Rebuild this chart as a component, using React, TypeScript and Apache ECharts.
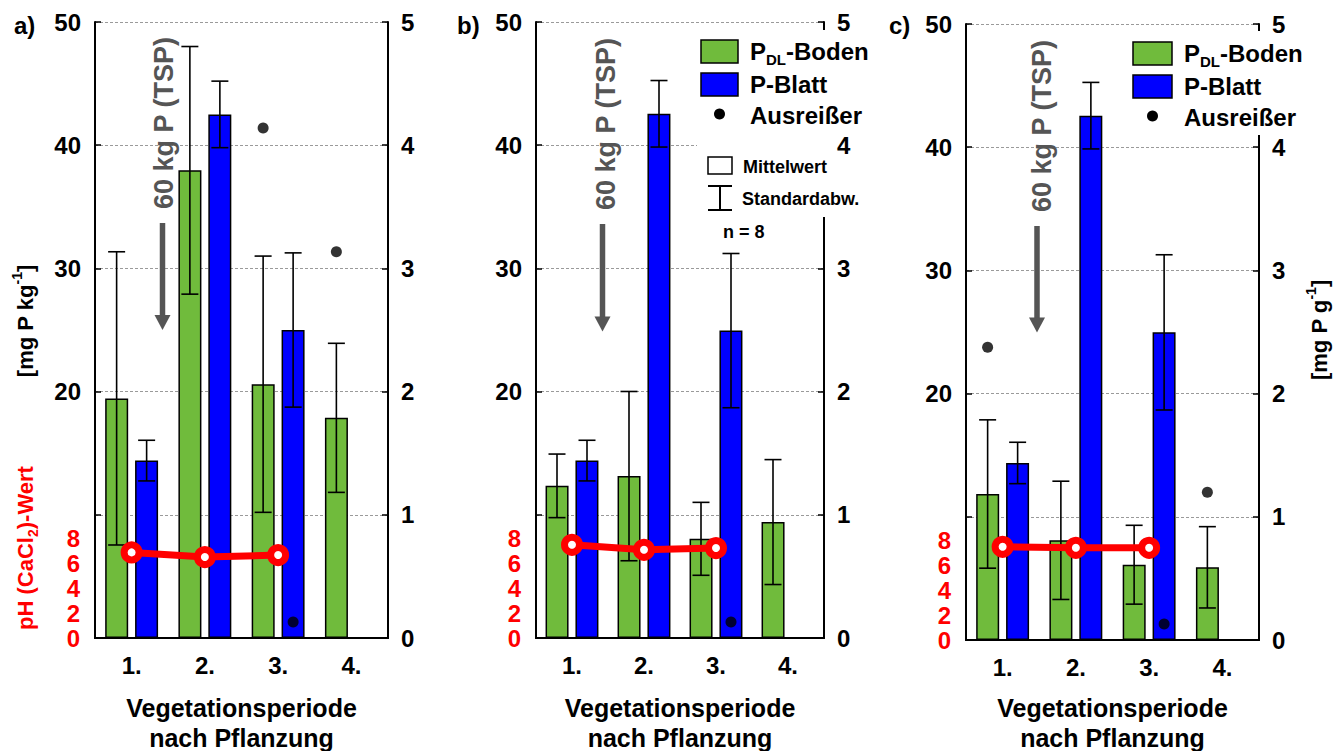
import React, { useEffect, useRef } from 'react';
import * as echarts from 'echarts';

const categories = ['1.', '2.', '3.', '4.'];

// Panel a)
const bodenA = [19.45, 37.96, 20.6, 17.87];
const bodenSdA = [11.9, 10.05, 10.4, 6.05];
const blattA = [1.44, 4.25, 2.5, null];
const blattSdA = [0.165, 0.27, 0.626, null];
const phA = [6.85, 6.48, 6.64, null];
const outBodenA = [[2, 41.4], [3, 31.36]];
const outBlattA = [[2, 0.13]];

// Panel b)
const bodenB = [12.35, 13.14, 8.05, 9.41];
const bodenSdB = [2.58, 6.87, 2.96, 5.07];
const blattB = [1.44, 4.255, 2.495, null];
const blattSdB = [0.165, 0.27, 0.626, null];
const phB = [7.46, 7.06, 7.2, null];
const outBodenB: number[][] = [];
const outBlattB = [[2, 0.13]];

// Panel c)
const bodenC = [11.85, 8.09, 6.11, 5.9];
const bodenSdC = [6.02, 4.8, 3.2, 3.3];
const blattC = [1.437, 4.256, 2.497, null];
const blattSdC = [0.168, 0.27, 0.63, null];
const phC = [7.46, 7.38, 7.38, null];
const outBodenC = [[0, 23.76], [3, 11.99]];
const outBlattC = [[2, 0.13]];

// Axis ranges
const leftMax = 50;
const leftInterval = 10;
const rightMax = 5;
const rightInterval = 1;
const phMax = 49.3;
const phInterval = 2;
const phLabelMax = 8;
const leftLabelMin = 20;

const FF = "'Liberation Sans', Arial, Helvetica, sans-serif";
const GREEN = '#70BB3C';
const BLUE = '#0000FF';
const RED = '#FF0000';
const GREY = '#555555';

type Panel = {
  letter: string;
  grid: { left: number; top: number; width: number; height: number };
  boden: (number | null)[];
  bodenSd: (number | null)[];
  blatt: (number | null)[];
  blattSd: (number | null)[];
  ph: (number | null)[];
  outBoden: number[][];
  outBlatt: number[][];
  letterX: number;
  arrowX: number;
  arrowTextX: number;
  arrowTop: number;
  arrowTip: number;
  arrowTextY: number;
};

const panels: Panel[] = [
  {
    letter: 'a)', grid: { left: 95, top: 22, width: 293, height: 616 },
    boden: bodenA, bodenSd: bodenSdA, blatt: blattA, blattSd: blattSdA, ph: phA,
    outBoden: outBodenA, outBlatt: outBlattA,
    letterX: 14, arrowX: 162.5, arrowTextX: 163.5, arrowTop: 223, arrowTip: 330, arrowTextY: 123,
  },
  {
    letter: 'b)', grid: { left: 536, top: 22, width: 288, height: 616 },
    boden: bodenB, bodenSd: bodenSdB, blatt: blattB, blattSd: blattSdB, ph: phB,
    outBoden: outBodenB, outBlatt: outBlattB,
    letterX: 457, arrowX: 602.5, arrowTextX: 605.5, arrowTop: 224, arrowTip: 331.5, arrowTextY: 124,
  },
  {
    letter: 'c)', grid: { left: 966, top: 24, width: 293, height: 616 },
    boden: bodenC, bodenSd: bodenSdC, blatt: blattC, blattSd: blattSdC, ph: phC,
    outBoden: outBodenC, outBlatt: outBlattC,
    letterX: 889, arrowX: 1037, arrowTextX: 1041.5, arrowTop: 226, arrowTip: 332.5, arrowTextY: 126,
  },
];

const BAR_W = 23;
const BAR_OFF = 15;

function errorSeries(xi: number, yi: number, means: (number | null)[], sds: (number | null)[], offset: number) {
  const data: number[][] = [];
  means.forEach((m, k) => {
    const s = sds[k];
    if (m != null && s != null) data.push([k, m - s, m + s]);
  });
  return {
    type: 'custom',
    xAxisIndex: xi,
    yAxisIndex: yi,
    z: 4,
    silent: true,
    encode: { x: 0, y: [1, 2] },
    data,
    renderItem: (params: any, api: any) => {
      const lo = api.coord([api.value(0), api.value(1)]);
      const hi = api.coord([api.value(0), api.value(2)]);
      const x = lo[0] + offset;
      const half = 8.5;
      const style = { stroke: '#000', lineWidth: 1.6 };
      return {
        type: 'group',
        children: [
          { type: 'line', shape: { x1: x, y1: lo[1], x2: x, y2: hi[1] }, style },
          { type: 'line', shape: { x1: x - half, y1: lo[1], x2: x + half, y2: lo[1] }, style },
          { type: 'line', shape: { x1: x - half, y1: hi[1], x2: x + half, y2: hi[1] }, style },
        ],
      };
    },
  };
}

const axisLineStyle = { color: '#000', width: 2 };
const tickFont = { fontSize: 24, fontWeight: 'bold', fontFamily: FF, color: '#000' };

function buildOption() {
  const grid: any[] = [];
  const xAxis: any[] = [];
  const yAxis: any[] = [];
  const series: any[] = [];
  const graphic: any[] = [];

  panels.forEach((p, i) => {
    grid.push({ ...p.grid, containLabel: false });
    xAxis.push({
      gridIndex: i, type: 'category', data: categories, position: 'bottom',
      axisLine: { lineStyle: axisLineStyle },
      axisTick: { inside: true, alignWithLabel: true, length: 5, lineStyle: { color: '#000', width: 1.5 } },
      axisLabel: { ...tickFont, margin: 15 },
      splitLine: { show: false },
    });
    xAxis.push({
      gridIndex: i, type: 'category', data: categories, position: 'top',
      axisLine: { lineStyle: axisLineStyle },
      axisTick: { inside: true, alignWithLabel: true, length: 8, lineStyle: { color: '#000', width: 1.5 } },
      axisLabel: { show: false },
      splitLine: { show: false },
    });
    yAxis.push({
      gridIndex: i, type: 'value', min: 0, max: leftMax, interval: leftInterval, position: 'left',
      axisLine: { show: true, lineStyle: axisLineStyle },
      axisTick: { show: true, inside: true, length: 6, lineStyle: { color: '#000', width: 1.5 } },
      axisLabel: { ...tickFont, margin: 14, formatter: (v: number) => (v >= leftLabelMin ? String(v) : '') },
      splitLine: { show: true, lineStyle: { color: '#9a9a9a', width: 1, type: [3, 2] } },
    });
    yAxis.push({
      gridIndex: i, type: 'value', min: 0, max: rightMax, interval: rightInterval, position: 'right',
      axisLine: { show: true, lineStyle: axisLineStyle },
      axisTick: { show: true, inside: true, length: 6, lineStyle: { color: '#000', width: 1.5 } },
      axisLabel: { ...tickFont, margin: 13 },
      splitLine: { show: false },
    });
    yAxis.push({
      gridIndex: i, type: 'value', min: 0, max: phMax, interval: phInterval, position: 'left',
      axisLine: { show: false }, axisTick: { show: false }, splitLine: { show: false },
      axisLabel: { ...tickFont, color: RED, margin: 15, formatter: (v: number) => (v <= phLabelMax ? String(v) : '') },
    });

    const xi = 2 * i;
    const yl = 3 * i;
    const yr = 3 * i + 1;
    const yp = 3 * i + 2;

    series.push({
      type: 'bar', name: 'PDL-Boden', xAxisIndex: xi, yAxisIndex: yl, data: p.boden,
      barWidth: BAR_W, barGap: '30%', z: 2,
      itemStyle: { color: GREEN, borderColor: '#000', borderWidth: 1.5 },
    });
    series.push({
      type: 'bar', name: 'P-Blatt', xAxisIndex: xi, yAxisIndex: yr, data: p.blatt,
      barWidth: BAR_W, barGap: '30%', z: 2,
      itemStyle: { color: BLUE, borderColor: '#000', borderWidth: 1.5 },
    });
    series.push(errorSeries(xi, yl, p.boden, p.bodenSd, -BAR_OFF));
    series.push(errorSeries(xi, yr, p.blatt, p.blattSd, BAR_OFF));
    series.push({
      type: 'line', name: 'pH', xAxisIndex: xi, yAxisIndex: yp, data: p.ph, z: 5,
      lineStyle: { color: RED, width: 7 },
      symbol: 'circle', symbolSize: 15,
      itemStyle: { color: '#fff', borderColor: RED, borderWidth: 7 },
    });
    series.push({
      type: 'scatter', name: 'Ausreißer Boden', xAxisIndex: xi, yAxisIndex: yl, data: p.outBoden, z: 6,
      symbol: 'circle', symbolSize: 11, symbolOffset: [-BAR_OFF, 0], itemStyle: { color: '#000' },
    });
    series.push({
      type: 'scatter', name: 'Ausreißer Blatt', xAxisIndex: xi, yAxisIndex: yr, data: p.outBlatt, z: 6,
      symbol: 'circle', symbolSize: 11, symbolOffset: [BAR_OFF, 0], itemStyle: { color: '#000' },
    });

    // panel letter
    graphic.push({
      type: 'text', x: p.letterX, y: 25, z: 60,
      style: { text: p.letter, fontSize: 24, fontWeight: 'bold', fontFamily: FF, fill: '#000', align: 'left', verticalAlign: 'middle' },
    });
    // arrow annotation
    graphic.push({
      type: 'text', x: p.arrowTextX, y: p.arrowTextY, rotation: Math.PI / 2, z: 60,
      style: { text: '60 kg P (TSP)', fontSize: 27, fontWeight: 'bold', fontFamily: FF, fill: GREY, align: 'center', verticalAlign: 'middle' },
    });
    graphic.push({
      type: 'line', z: 60,
      shape: { x1: p.arrowX, y1: p.arrowTop, x2: p.arrowX, y2: p.arrowTip - 12 },
      style: { stroke: GREY, lineWidth: 5.5 },
    });
    graphic.push({
      type: 'polygon', z: 60,
      shape: { points: [[p.arrowX - 8, p.arrowTip - 15], [p.arrowX + 8, p.arrowTip - 15], [p.arrowX, p.arrowTip]] },
      style: { fill: GREY },
    });
    // x axis title
    graphic.push({
      type: 'text', x: p.grid.left + p.grid.width / 2, y: 723, z: 60,
      style: {
        text: 'Vegetationsperiode\nnach Pflanzung', fontSize: 25, fontWeight: 'bold', fontFamily: FF, fill: '#000',
        align: 'center', verticalAlign: 'middle', lineHeight: 30,
      },
    });
  });

  const bigRich = {
    m: { fontSize: 24, fontWeight: 'bold', fontFamily: FF, fill: '#000', lineHeight: 30 },
    s: { fontSize: 15, fontWeight: 'bold', fontFamily: FF, fill: '#000', lineHeight: 15, verticalAlign: 'bottom' },
  };
  const nameRich = (color: string) => ({
    m: { fontSize: 22, fontWeight: 'bold', fontFamily: FF, fill: color, lineHeight: 30 },
    up: { fontSize: 14, fontWeight: 'bold', fontFamily: FF, fill: color, lineHeight: 14, verticalAlign: 'top' },
    dn: { fontSize: 14, fontWeight: 'bold', fontFamily: FF, fill: color, lineHeight: 14, verticalAlign: 'bottom' },
  });

  // axis names
  graphic.push({
    type: 'text', x: 25, y: 321, rotation: Math.PI / 2, z: 60,
    style: { text: '{m|[mg P kg}{up|-1}{m|]}', rich: nameRich('#000'), align: 'center', verticalAlign: 'middle' },
  });
  graphic.push({
    type: 'text', x: 25, y: 548, rotation: Math.PI / 2, z: 60,
    style: { text: '{m|pH (CaCl}{dn|2}{m|)-Wert}', rich: nameRich(RED), align: 'center', verticalAlign: 'middle' },
  });
  graphic.push({
    type: 'text', x: 1319, y: 330, rotation: Math.PI / 2, z: 60,
    style: { text: '{m|[mg P g}{up|-1}{m|]}', rich: nameRich('#000'), align: 'center', verticalAlign: 'middle' },
  });

  // legend helper
  const legendItems = (rx: number, rw: number, tx: number, y0: number) => {
    const items: any[] = [];
    items.push({ type: 'rect', z: 61, shape: { x: rx, y: y0, width: rw, height: 23 }, style: { fill: GREEN, stroke: '#000', lineWidth: 1.5 } });
    items.push({ type: 'text', x: tx, y: y0 + 11.5, z: 61, style: { text: '{m|P}{s|DL}{m|-Boden}', rich: bigRich, align: 'left', verticalAlign: 'middle' } });
    items.push({ type: 'rect', z: 61, shape: { x: rx, y: y0 + 33, width: rw, height: 23 }, style: { fill: BLUE, stroke: '#000', lineWidth: 1.5 } });
    items.push({ type: 'text', x: tx, y: y0 + 44.5, z: 61, style: { text: 'P-Blatt', fontSize: 24, fontWeight: 'bold', fontFamily: FF, fill: '#000', align: 'left', verticalAlign: 'middle' } });
    items.push({ type: 'circle', z: 61, shape: { cx: rx + rw / 2, cy: y0 + 74, r: 5.5 }, style: { fill: '#000' } });
    items.push({ type: 'text', x: tx, y: y0 + 75, z: 61, style: { text: 'Ausreißer', fontSize: 24, fontWeight: 'bold', fontFamily: FF, fill: '#000', align: 'left', verticalAlign: 'middle' } });
    return items;
  };

  // legend b
  graphic.push({ type: 'rect', z: 55, shape: { x: 697, y: 30, width: 130, height: 187 }, style: { fill: '#fff' } });
  graphic.push(...legendItems(701, 37, 750, 40));
  graphic.push({ type: 'rect', z: 61, shape: { x: 708, y: 157, width: 24, height: 17 }, style: { fill: '#fff', stroke: '#000', lineWidth: 1.5 } });
  graphic.push({ type: 'text', x: 743, y: 167, z: 61, style: { text: 'Mittelwert', fontSize: 18, fontWeight: 'bold', fontFamily: FF, fill: '#000', align: 'left', verticalAlign: 'middle' } });
  graphic.push({ type: 'line', z: 61, shape: { x1: 708, y1: 186, x2: 732, y2: 186 }, style: { stroke: '#000', lineWidth: 2 } });
  graphic.push({ type: 'line', z: 61, shape: { x1: 720, y1: 186, x2: 720, y2: 210 }, style: { stroke: '#000', lineWidth: 2 } });
  graphic.push({ type: 'line', z: 61, shape: { x1: 708, y1: 210, x2: 732, y2: 210 }, style: { stroke: '#000', lineWidth: 2 } });
  graphic.push({ type: 'text', x: 742, y: 199, z: 61, style: { text: 'Standardabw.', fontSize: 18, fontWeight: 'bold', fontFamily: FF, fill: '#000', align: 'left', verticalAlign: 'middle' } });
  graphic.push({ type: 'text', x: 723, y: 232, z: 61, style: { text: 'n = 8', fontSize: 18, fontWeight: 'bold', fontFamily: FF, fill: '#000', align: 'left', verticalAlign: 'middle' } });

  // legend c
  graphic.push({ type: 'rect', z: 55, shape: { x: 1127, y: 31, width: 135, height: 104 }, style: { fill: '#fff' } });
  graphic.push(...legendItems(1133, 39, 1184, 42));

  return {
    animation: false,
    backgroundColor: '#fff',
    grid, xAxis, yAxis, series, graphic,
  };
}

export default function App() {
  const ref = useRef<HTMLDivElement>(null);
  useEffect(() => {
    if (!ref.current) return;
    const chart = echarts.init(ref.current, undefined, { renderer: 'svg' });
    chart.setOption(buildOption() as any);
    return () => chart.dispose();
  }, []);
  return <div ref={ref} style={{ position: 'fixed', left: 0, top: 0, width: 1334, height: 751, background: '#fff' }} />;
}
